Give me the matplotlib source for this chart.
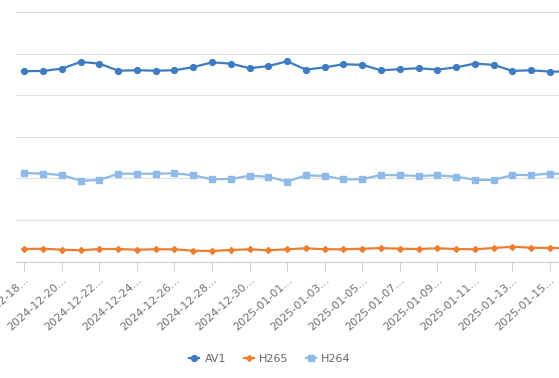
import matplotlib
matplotlib.use("Agg")
import matplotlib.pyplot as plt
import pandas as pd

# categories: one point per day
dates = pd.date_range("2024-12-18", "2025-01-16", freq="D").strftime("%Y-%m-%d").tolist()

# values (y axis labels are cropped in the reference)
av1 = [457.7, 458.4, 464.0, 480.0, 476.0, 459.0, 460.0, 459.0, 460.0, 467.5,
       479.0, 476.0, 465.0, 470.0, 481.6, 461.5, 467.0, 474.5, 473.0, 460.0,
       462.5, 465.0, 461.5, 467.0, 476.0, 473.0, 458.4, 460.0, 456.7, 457.0]
h265 = [30.5, 31.2, 28.8, 27.4, 30.5, 30.5, 28.8, 29.8, 29.8, 26.4,
        25.7, 28.1, 29.8, 27.4, 29.8, 32.2, 29.8, 29.8, 31.2, 32.6,
        31.2, 30.5, 32.2, 30.5, 29.8, 32.9, 36.0, 33.6, 32.9, 32.9]
h264 = [213.0, 211.5, 208.3, 194.6, 196.3, 211.5, 211.5, 211.5, 212.4, 207.6,
        198.0, 198.7, 206.7, 204.3, 192.2, 207.6, 206.0, 198.0, 198.0, 208.6,
        207.6, 206.0, 207.6, 204.3, 197.0, 196.3, 208.3, 208.3, 211.5, 211.5]

series = [("AV1", av1, "#3d7cc0", "o", 4.2),
          ("H265", h265, "#ed7d31", "D", 3.0),
          ("H264", h264, "#8fb9e8", "s", 4.2)]

W, H = 559, 378
fig = plt.figure(figsize=(W / 100, H / 100), dpi=100)
# axes run past the right edge: the reference is cropped there
ax = fig.add_axes([16 / W, 1 - 261.7 / H, 561 / W, 249.7 / H])

x = list(range(len(dates)))
for name, vals, col, mk, ms in series:
    ax.plot(x, vals, color=col, lw=1.6, marker=mk, markersize=ms, label=name)

ax.set_xlim(-0.443, len(dates) - 1 + 0.443)
ax.set_ylim(0, 600)
ax.set_yticks(range(0, 601, 100))
ax.yaxis.grid(True, color="#e0e0e0", lw=0.8)
ax.set_axisbelow(True)
ax.tick_params(axis="y", left=False, labelleft=False)

for s in ["left", "right", "top"]:
    ax.spines[s].set_visible(False)
ax.spines["bottom"].set_color("#d0d0d0")
ax.spines["bottom"].set_linewidth(0.8)

ticks = x[::2]
ax.set_xticks(ticks)
ax.set_xticklabels([dates[i] + "..." for i in ticks], rotation=42,
                   ha="right", va="top", rotation_mode="anchor",
                   fontsize=8, color="#6e7079")
ax.tick_params(axis="x", length=6.5, width=0.8, color="#d0d0d0", pad=3)

fig.legend(loc="center", bbox_to_anchor=(270 / W, 1 - 359 / H), ncol=3,
           frameon=False, fontsize=8, handlelength=0.9, handletextpad=0.45,
           columnspacing=1.6, labelcolor="#666666")

fig.savefig("out.png", dpi=100)
